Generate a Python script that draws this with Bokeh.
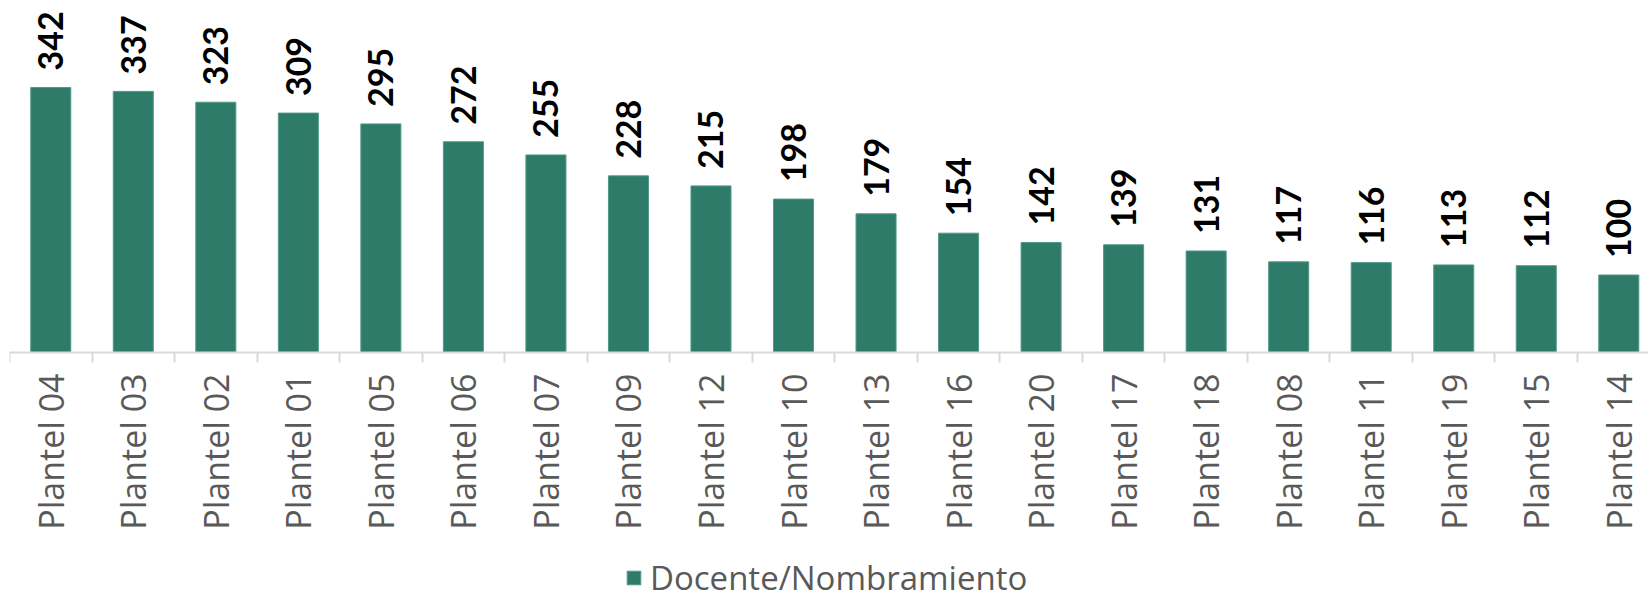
import math
from bokeh.plotting import figure
from bokeh.models import (Range1d, FixedTicker, ColumnDataSource, LabelSet,
                          Legend, LegendItem)
from bokeh.core.properties import value
from bokeh.embed import file_html
from bokeh.resources import INLINE

categories = ["Plantel 04", "Plantel 03", "Plantel 02", "Plantel 01", "Plantel 05",
              "Plantel 06", "Plantel 07", "Plantel 09", "Plantel 12", "Plantel 10",
              "Plantel 13", "Plantel 16", "Plantel 20", "Plantel 17", "Plantel 18",
              "Plantel 08", "Plantel 11", "Plantel 19", "Plantel 15", "Plantel 14"]
values = [342, 337, 323, 309, 295, 272, 255, 228, 215, 198,
          179, 154, 142, 139, 131, 117, 116, 113, 112, 100]
series_name = "Docente/Nombramiento"

BAR = "#2F7B6A"

idx = list(range(len(categories)))
src = ColumnDataSource(dict(x=idx, top=values, label=[str(v) for v in values]))

p = figure(frame_width=1639, frame_height=584, output_backend="svg", toolbar_location=None,
           x_range=Range1d(-0.5, 19.36), y_range=Range1d(-309.8, 444),
           min_border_left=9, min_border_right=0, min_border_top=8, min_border_bottom=0)
p.background_fill_color = "#FFFFFF"
p.border_fill_color = "#FFFFFF"
p.outline_line_color = None
p.grid.visible = False
p.yaxis.visible = False

r = p.vbar(x="x", top="top", width=0.485, bottom=0, source=src,
           fill_color=BAR, line_color="#4F9A88", line_width=1)

ax = p.xaxis[0]
ax.fixed_location = 0
ax.ticker = FixedTicker(ticks=idx, minor_ticks=[i - 0.5 for i in range(len(categories) + 1)])
ax.major_label_overrides = {i: c for i, c in enumerate(categories)}
ax.major_label_orientation = math.pi / 2
ax.major_tick_line_color = None
ax.major_tick_out = 10
ax.major_tick_in = 0
ax.minor_tick_out = 10
ax.minor_tick_in = 0
ax.minor_tick_line_color = "#D9D9D9"
ax.minor_tick_line_width = 2
ax.axis_line_color = "#D9D9D9"
ax.axis_line_width = 2
ax.major_label_standoff = 11
ax.major_label_text_font = "Open Sans"
ax.major_label_text_font_size = "34px"
ax.major_label_text_color = "#595959"

labels = LabelSet(x="x", y="top", text="label", source=src, angle=math.pi / 2,
                  text_align="left", text_baseline="middle", y_offset=17,
                  text_font=value("Lato"), text_font_style="bold",
                  text_font_size="34px", text_color="#000000")
p.add_layout(labels)

legend = Legend(items=[LegendItem(label=series_name, renderers=[r])],
                orientation="horizontal", location=(616, -8),
                label_text_font="Open Sans", label_text_font_size="33px",
                label_text_color="#595959", glyph_width=17, glyph_height=17,
                label_standoff=8, padding=0, margin=0, spacing=0,
                border_line_color=None, background_fill_alpha=0)
p.add_layout(legend)

open("out.html", "w").write(file_html(p, INLINE))
